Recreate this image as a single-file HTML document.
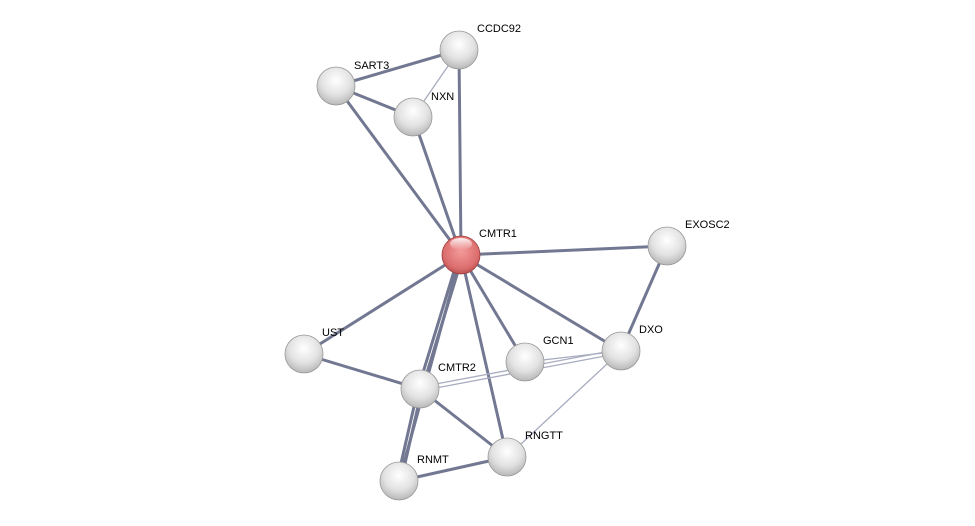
<!DOCTYPE html>
<html><head><style>
html,body{margin:0;padding:0;background:#fff;}
svg{display:block;}
text{font-family:"Liberation Sans",sans-serif;font-size:11px;fill:#000;}
</style></head><body>
<svg width="975" height="526" viewBox="0 0 975 526" xmlns="http://www.w3.org/2000/svg">
<defs>
<radialGradient id="g" cx="50%" cy="35%" r="65%">
<stop offset="0" stop-color="#ffffff"/><stop offset="0.6" stop-color="#e2e2e2"/><stop offset="1" stop-color="#b8b8b8"/>
</radialGradient>
<radialGradient id="r" cx="50%" cy="40%" r="65%">
<stop offset="0" stop-color="#f49a9a"/><stop offset="0.7" stop-color="#dc6e6e"/><stop offset="1" stop-color="#b04848"/>
</radialGradient>
<linearGradient id="hl" x1="0" y1="0" x2="0" y2="1">
<stop offset="0" stop-color="#fff" stop-opacity="0.9"/><stop offset="1" stop-color="#fff" stop-opacity="0"/>
</linearGradient>
</defs>
<g stroke="#737892" stroke-width="3" stroke-linecap="round">
<line x1="461" y1="255" x2="336" y2="86"/>
<line x1="461" y1="255" x2="413" y2="117"/>
<line x1="461" y1="255" x2="459" y2="50"/>
<line x1="336" y1="86" x2="413" y2="117"/>
<line x1="336" y1="86" x2="459" y2="50"/>
<line x1="461" y1="255" x2="667" y2="246"/>
<line x1="461" y1="255" x2="621" y2="351"/>
<line x1="461" y1="255" x2="525" y2="362"/>
<line x1="461" y1="255" x2="304" y2="354"/>
<line x1="459" y1="255" x2="418" y2="389"/>
<line x1="463" y1="255" x2="422" y2="389"/>
<line x1="461" y1="255" x2="507" y2="457"/>
<line x1="461" y1="255" x2="399" y2="481"/>
<line x1="304" y1="354" x2="420" y2="389"/>
<line x1="420" y1="389" x2="507" y2="457"/>
<line x1="418" y1="389" x2="397" y2="481"/>
<line x1="422" y1="389" x2="401" y2="481"/>
<line x1="399" y1="481" x2="507" y2="457"/>
<line x1="667" y1="246" x2="621" y2="351"/>
</g>
<g stroke="#a8acc0" stroke-width="1.3">
<line x1="459" y1="50" x2="413" y2="117"/>
<line x1="420" y1="387" x2="621" y2="349"/>
<line x1="420" y1="391" x2="621" y2="353"/>
<line x1="525" y1="362" x2="621" y2="351"/>
<line x1="507" y1="457" x2="621" y2="351"/>
</g>
<g>
<circle cx="459" cy="50" r="19" fill="url(#g)" stroke="#999" stroke-width="0.8"/>
<circle cx="336" cy="86" r="19" fill="url(#g)" stroke="#999" stroke-width="0.8"/>
<circle cx="413" cy="117" r="19" fill="url(#g)" stroke="#999" stroke-width="0.8"/>
<circle cx="667" cy="246" r="19" fill="url(#g)" stroke="#999" stroke-width="0.8"/>
<circle cx="304" cy="354" r="19" fill="url(#g)" stroke="#999" stroke-width="0.8"/>
<circle cx="525" cy="362" r="19" fill="url(#g)" stroke="#999" stroke-width="0.8"/>
<circle cx="621" cy="351" r="19" fill="url(#g)" stroke="#999" stroke-width="0.8"/>
<circle cx="420" cy="389" r="19" fill="url(#g)" stroke="#999" stroke-width="0.8"/>
<circle cx="507" cy="457" r="19" fill="url(#g)" stroke="#999" stroke-width="0.8"/>
<circle cx="399" cy="481" r="19" fill="url(#g)" stroke="#999" stroke-width="0.8"/>
<circle cx="461" cy="255" r="19" fill="url(#r)" stroke="#a04040" stroke-width="0.8"/>
<ellipse cx="461" cy="244" rx="11" ry="6" fill="url(#hl)"/>
</g>
<text x="477" y="32">CCDC92</text>
<text x="354" y="69">SART3</text>
<text x="431" y="100">NXN</text>
<text x="479" y="237">CMTR1</text>
<text x="685" y="228">EXOSC2</text>
<text x="322" y="336">UST</text>
<text x="543" y="344">GCN1</text>
<text x="639" y="333">DXO</text>
<text x="438" y="371">CMTR2</text>
<text x="525" y="439">RNGTT</text>
<text x="417" y="463">RNMT</text>
</svg>
</body></html>
